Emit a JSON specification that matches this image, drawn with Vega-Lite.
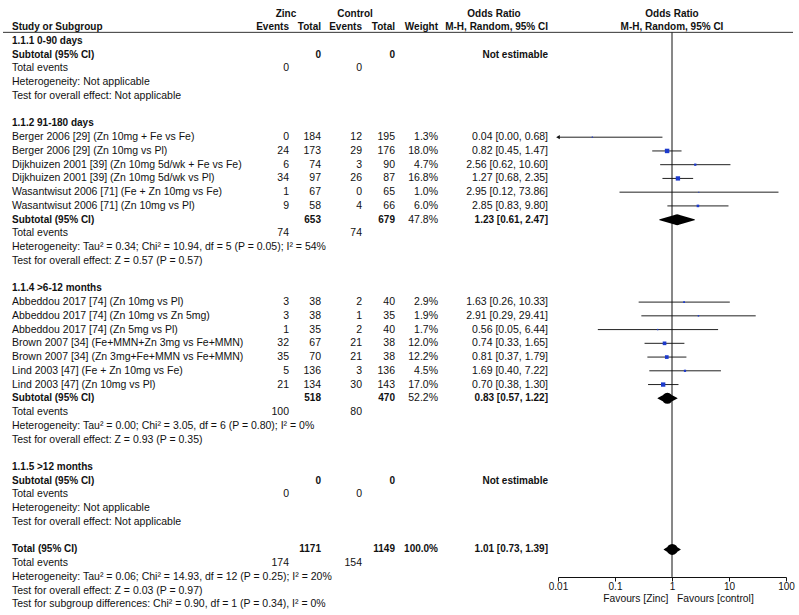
{
  "$schema": "https://vega.github.io/schema/vega-lite/v6.json",
  "width": 799,
  "height": 615,
  "autosize": {"type": "none"},
  "padding": 0,
  "background": "white",
  "config": {
    "view": {"stroke": null},
    "font": "Liberation Sans",
    "text": {"font": "Liberation Sans", "fontSize": 10.5, "color": "#111", "baseline": "middle"}
  },
  "resolve": {"scale": {"size": "independent"}},
  "data": {"values": [
    {"row": -1, "kind": "header", "label": "Study or Subgroup", "ze": "Events", "zt": "Total", "ce": "Events", "ct": "Total", "ort": "M-H, Random, 95% CI"},
    {"row": 0, "kind": "group", "label": "1.1.1 0-90 days"},
    {"row": 1, "kind": "subtotal", "label": "Subtotal (95% CI)", "zt": 0, "ct": 0, "ort": "Not estimable"},
    {"row": 2, "kind": "events", "label": "Total events", "ze": 0, "ce": 0},
    {"row": 3, "kind": "note", "label": "Heterogeneity: Not applicable"},
    {"row": 4, "kind": "note", "label": "Test for overall effect: Not applicable"},
    {"row": 6, "kind": "group", "label": "1.1.2 91-180 days"},
    {"row": 7, "kind": "study", "label": "Berger 2006 [29] (Zn 10mg + Fe vs Fe)", "ze": 0, "zt": 184, "ce": 12, "ct": 195, "w": 0.013, "est": 0.04, "lo": 0.002, "hi": 0.68, "ort": "0.04 [0.00, 0.68]"},
    {"row": 8, "kind": "study", "label": "Berger 2006 [29] (Zn 10mg vs Pl)", "ze": 24, "zt": 173, "ce": 29, "ct": 176, "w": 0.18, "est": 0.82, "lo": 0.45, "hi": 1.47, "ort": "0.82 [0.45, 1.47]"},
    {"row": 9, "kind": "study", "label": "Dijkhuizen 2001 [39] (Zn 10mg 5d/wk + Fe vs Fe)", "ze": 6, "zt": 74, "ce": 3, "ct": 90, "w": 0.047, "est": 2.56, "lo": 0.62, "hi": 10.6, "ort": "2.56 [0.62, 10.60]"},
    {"row": 10, "kind": "study", "label": "Dijkhuizen 2001 [39] (Zn 10mg 5d/wk vs Pl)", "ze": 34, "zt": 97, "ce": 26, "ct": 87, "w": 0.168, "est": 1.27, "lo": 0.68, "hi": 2.35, "ort": "1.27 [0.68, 2.35]"},
    {"row": 11, "kind": "study", "label": "Wasantwisut 2006 [71] (Fe + Zn 10mg vs Fe)", "ze": 1, "zt": 67, "ce": 0, "ct": 65, "w": 0.01, "est": 2.95, "lo": 0.12, "hi": 73.86, "ort": "2.95 [0.12, 73.86]"},
    {"row": 12, "kind": "study", "label": "Wasantwisut 2006 [71] (Zn 10mg vs Pl)", "ze": 9, "zt": 58, "ce": 4, "ct": 66, "w": 0.06, "est": 2.85, "lo": 0.83, "hi": 9.8, "ort": "2.85 [0.83, 9.80]"},
    {"row": 13, "kind": "subtotal", "label": "Subtotal (95% CI)", "zt": 653, "ct": 679, "w": 0.478, "est": 1.23, "lo": 0.61, "hi": 2.47, "ort": "1.23 [0.61, 2.47]"},
    {"row": 14, "kind": "events", "label": "Total events", "ze": 74, "ce": 74},
    {"row": 15, "kind": "note", "label": "Heterogeneity: Tau² = 0.34; Chi² = 10.94, df = 5 (P = 0.05); I² = 54%"},
    {"row": 16, "kind": "note", "label": "Test for overall effect: Z = 0.57 (P = 0.57)"},
    {"row": 18, "kind": "group", "label": "1.1.4 >6-12 months"},
    {"row": 19, "kind": "study", "label": "Abbeddou 2017 [74] (Zn 10mg vs Pl)", "ze": 3, "zt": 38, "ce": 2, "ct": 40, "w": 0.029, "est": 1.63, "lo": 0.26, "hi": 10.33, "ort": "1.63 [0.26, 10.33]"},
    {"row": 20, "kind": "study", "label": "Abbeddou 2017 [74] (Zn 10mg vs Zn 5mg)", "ze": 3, "zt": 38, "ce": 1, "ct": 35, "w": 0.019, "est": 2.91, "lo": 0.29, "hi": 29.41, "ort": "2.91 [0.29, 29.41]"},
    {"row": 21, "kind": "study", "label": "Abbeddou 2017 [74] (Zn 5mg vs Pl)", "ze": 1, "zt": 35, "ce": 2, "ct": 40, "w": 0.017, "est": 0.56, "lo": 0.05, "hi": 6.44, "ort": "0.56 [0.05, 6.44]"},
    {"row": 22, "kind": "study", "label": "Brown 2007 [34] (Fe+MMN+Zn 3mg vs Fe+MMN)", "ze": 32, "zt": 67, "ce": 21, "ct": 38, "w": 0.12, "est": 0.74, "lo": 0.33, "hi": 1.65, "ort": "0.74 [0.33, 1.65]"},
    {"row": 23, "kind": "study", "label": "Brown 2007 [34] (Zn 3mg+Fe+MMN vs Fe+MMN)", "ze": 35, "zt": 70, "ce": 21, "ct": 38, "w": 0.122, "est": 0.81, "lo": 0.37, "hi": 1.79, "ort": "0.81 [0.37, 1.79]"},
    {"row": 24, "kind": "study", "label": "Lind 2003 [47] (Fe + Zn 10mg vs Fe)", "ze": 5, "zt": 136, "ce": 3, "ct": 136, "w": 0.045, "est": 1.69, "lo": 0.4, "hi": 7.22, "ort": "1.69 [0.40, 7.22]"},
    {"row": 25, "kind": "study", "label": "Lind 2003 [47] (Zn 10mg vs Pl)", "ze": 21, "zt": 134, "ce": 30, "ct": 143, "w": 0.17, "est": 0.7, "lo": 0.38, "hi": 1.3, "ort": "0.70 [0.38, 1.30]"},
    {"row": 26, "kind": "subtotal", "label": "Subtotal (95% CI)", "zt": 518, "ct": 470, "w": 0.522, "est": 0.83, "lo": 0.57, "hi": 1.22, "ort": "0.83 [0.57, 1.22]"},
    {"row": 27, "kind": "events", "label": "Total events", "ze": 100, "ce": 80},
    {"row": 28, "kind": "note", "label": "Heterogeneity: Tau² = 0.00; Chi² = 3.05, df = 6 (P = 0.80); I² = 0%"},
    {"row": 29, "kind": "note", "label": "Test for overall effect: Z = 0.93 (P = 0.35)"},
    {"row": 31, "kind": "group", "label": "1.1.5 >12 months"},
    {"row": 32, "kind": "subtotal", "label": "Subtotal (95% CI)", "zt": 0, "ct": 0, "ort": "Not estimable"},
    {"row": 33, "kind": "events", "label": "Total events", "ze": 0, "ce": 0},
    {"row": 34, "kind": "note", "label": "Heterogeneity: Not applicable"},
    {"row": 35, "kind": "note", "label": "Test for overall effect: Not applicable"},
    {"row": 37, "kind": "total", "label": "Total (95% CI)", "zt": 1171, "ct": 1149, "w": 1.0, "est": 1.01, "lo": 0.73, "hi": 1.39, "ort": "1.01 [0.73, 1.39]"},
    {"row": 38, "kind": "events", "label": "Total events", "ze": 174, "ce": 154},
    {"row": 39, "kind": "note", "label": "Heterogeneity: Tau² = 0.06; Chi² = 14.93, df = 12 (P = 0.25); I² = 20%"},
    {"row": 40, "kind": "note", "label": "Test for overall effect: Z = 0.03 (P = 0.97)"},
    {"row": 41, "kind": "note", "label": "Test for subgroup differences: Chi² = 0.90, df = 1 (P = 0.34), I² = 0%"}
  ]},
  "layer": [
    {
      "transform": [{"filter": {"field": "kind", "oneOf": ["study", "events", "note"]}}],
      "mark": {"type": "text", "align": "left"},
      "encoding": {
        "x": {"value": 12},
        "y": {"field": "row", "type": "quantitative", "scale": {"domain": [-2.984, 41.77], "reverse": true, "nice": false, "zero": false}, "axis": null},
        "text": {"field": "label", "type": "nominal"}
      }
    },
    {
      "transform": [{"filter": {"field": "kind", "oneOf": ["header", "group", "subtotal", "total"]}}],
      "mark": {"type": "text", "align": "left", "fontWeight": "bold", "fontSize": 10},
      "encoding": {
        "x": {"value": 12},
        "y": {"field": "row", "type": "quantitative", "axis": null},
        "text": {"field": "label", "type": "nominal"}
      }
    },
    {
      "transform": [{"filter": {"field": "kind", "oneOf": ["study", "events"]}}, {"filter": "isValid(datum['ze'])"}],
      "mark": {"type": "text", "align": "right"},
      "encoding": {"x": {"value": 289}, "y": {"field": "row", "type": "quantitative", "axis": null}, "text": {"field": "ze", "type": "nominal"}}
    },
    {
      "transform": [{"filter": {"field": "kind", "oneOf": ["header"]}}],
      "mark": {"type": "text", "align": "right", "fontWeight": "bold", "fontSize": 10},
      "encoding": {"x": {"value": 289}, "y": {"field": "row", "type": "quantitative", "axis": null}, "text": {"field": "ze", "type": "nominal"}}
    },
    {
      "transform": [{"filter": {"field": "kind", "oneOf": ["study"]}}],
      "mark": {"type": "text", "align": "right"},
      "encoding": {"x": {"value": 321}, "y": {"field": "row", "type": "quantitative", "axis": null}, "text": {"field": "zt", "type": "nominal"}}
    },
    {
      "transform": [{"filter": {"field": "kind", "oneOf": ["header", "subtotal", "total"]}}],
      "mark": {"type": "text", "align": "right", "fontWeight": "bold", "fontSize": 10},
      "encoding": {"x": {"value": 321}, "y": {"field": "row", "type": "quantitative", "axis": null}, "text": {"field": "zt", "type": "nominal"}}
    },
    {
      "transform": [{"filter": {"field": "kind", "oneOf": ["study", "events"]}}, {"filter": "isValid(datum['ce'])"}],
      "mark": {"type": "text", "align": "right"},
      "encoding": {"x": {"value": 362}, "y": {"field": "row", "type": "quantitative", "axis": null}, "text": {"field": "ce", "type": "nominal"}}
    },
    {
      "transform": [{"filter": {"field": "kind", "oneOf": ["header"]}}],
      "mark": {"type": "text", "align": "right", "fontWeight": "bold", "fontSize": 10},
      "encoding": {"x": {"value": 362}, "y": {"field": "row", "type": "quantitative", "axis": null}, "text": {"field": "ce", "type": "nominal"}}
    },
    {
      "transform": [{"filter": {"field": "kind", "oneOf": ["study"]}}],
      "mark": {"type": "text", "align": "right"},
      "encoding": {"x": {"value": 395}, "y": {"field": "row", "type": "quantitative", "axis": null}, "text": {"field": "ct", "type": "nominal"}}
    },
    {
      "transform": [{"filter": {"field": "kind", "oneOf": ["header", "subtotal", "total"]}}],
      "mark": {"type": "text", "align": "right", "fontWeight": "bold", "fontSize": 10},
      "encoding": {"x": {"value": 395}, "y": {"field": "row", "type": "quantitative", "axis": null}, "text": {"field": "ct", "type": "nominal"}}
    },
    {
      "transform": [{"filter": {"field": "kind", "oneOf": ["study", "subtotal"]}}, {"filter": "isValid(datum['w'])"}],
      "mark": {"type": "text", "align": "right"},
      "encoding": {"x": {"value": 438}, "y": {"field": "row", "type": "quantitative", "axis": null}, "text": {"field": "w", "type": "quantitative", "format": ".1%"}}
    },
    {
      "transform": [{"filter": {"field": "kind", "oneOf": ["total"]}}],
      "mark": {"type": "text", "align": "right", "fontWeight": "bold", "fontSize": 10},
      "encoding": {"x": {"value": 438}, "y": {"field": "row", "type": "quantitative", "axis": null}, "text": {"field": "w", "type": "quantitative", "format": ".1%"}}
    },
    {
      "transform": [{"filter": {"field": "kind", "oneOf": ["study"]}}],
      "mark": {"type": "text", "align": "right"},
      "encoding": {"x": {"value": 548}, "y": {"field": "row", "type": "quantitative", "axis": null}, "text": {"field": "ort", "type": "nominal"}}
    },
    {
      "transform": [{"filter": {"field": "kind", "oneOf": ["header", "subtotal", "total"]}}, {"filter": "isValid(datum['ort'])"}],
      "mark": {"type": "text", "align": "right", "fontWeight": "bold", "fontSize": 10},
      "encoding": {"x": {"value": 548}, "y": {"field": "row", "type": "quantitative", "axis": null}, "text": {"field": "ort", "type": "nominal"}}
    },
    {
      "data": {"values": [{}]},
      "mark": {"type": "text", "align": "right", "fontWeight": "bold", "fontSize": 10},
      "encoding": {"x": {"value": 438}, "y": {"datum": -1, "type": "quantitative", "axis": null}, "text": {"value": "Weight"}}
    },
    {
      "data": {"values": [{}]},
      "mark": {"type": "text", "align": "center", "fontWeight": "bold", "fontSize": 10},
      "encoding": {"x": {"value": 286}, "y": {"datum": -2, "type": "quantitative", "axis": null}, "text": {"value": "Zinc"}}
    },
    {
      "data": {"values": [{}]},
      "mark": {"type": "text", "align": "center", "fontWeight": "bold", "fontSize": 10},
      "encoding": {"x": {"value": 355}, "y": {"datum": -2, "type": "quantitative", "axis": null}, "text": {"value": "Control"}}
    },
    {
      "data": {"values": [{}]},
      "mark": {"type": "text", "align": "center", "fontWeight": "bold", "fontSize": 10},
      "encoding": {"x": {"value": 494}, "y": {"datum": -2, "type": "quantitative", "axis": null}, "text": {"value": "Odds Ratio"}}
    },
    {
      "data": {"values": [{}]},
      "mark": {"type": "rule", "color": "#333", "strokeWidth": 1},
      "encoding": {"x": {"value": 3}, "x2": {"value": 793}, "y": {"datum": -0.63, "type": "quantitative", "axis": null}}
    },
    {
      "transform": [{"filter": {"field": "kind", "oneOf": ["study"]}}],
      "mark": {"type": "rule", "color": "#222", "strokeWidth": 1},
      "encoding": {
        "x": {"field": "lo", "type": "quantitative",
          "scale": {"type": "log", "domain": [0.01, 100], "range": [558, 786], "clamp": true, "nice": false},
          "axis": {"values": [0.01, 0.1, 1, 10, 100], "format": "~g", "offset": -38, "grid": false, "tickSize": 4, "labelPadding": 0, "labelFontSize": 10, "labelFont": "Liberation Sans", "labelColor": "#111", "labelFlush": false, "domainColor": "#111", "tickColor": "#111", "title": "Favours [Zinc]\u00a0\u00a0 Favours [control]", "titleFontSize": 10.3, "titleFontWeight": "normal", "titleFont": "Liberation Sans", "titleColor": "#111", "titlePadding": 2, "titleX": 678}},
        "x2": {"field": "hi"},
        "y": {"field": "row", "type": "quantitative", "axis": null}
      }
    },
    {
      "data": {"values": [{}]},
      "mark": {"type": "rule", "color": "#111", "strokeWidth": 1},
      "encoding": {"x": {"datum": 1, "type": "quantitative"}, "y": {"datum": -0.63, "type": "quantitative", "axis": null}, "y2": {"datum": 39.0}}
    },
    {
      "data": {"values": [{}]},
      "mark": {"type": "text", "align": "center", "fontWeight": "bold", "fontSize": 10},
      "encoding": {"x": {"datum": 1, "type": "quantitative"}, "y": {"datum": -2, "type": "quantitative", "axis": null}, "text": {"value": "Odds Ratio"}}
    },
    {
      "data": {"values": [{}]},
      "mark": {"type": "text", "align": "center", "fontWeight": "bold", "fontSize": 10},
      "encoding": {"x": {"datum": 1, "type": "quantitative"}, "y": {"datum": -1, "type": "quantitative", "axis": null}, "text": {"value": "M-H, Random, 95% CI"}}
    },
    {
      "transform": [{"filter": {"field": "kind", "oneOf": ["study"]}}, {"filter": "datum['lo'] < 0.01"}],
      "mark": {"type": "point", "shape": "triangle-left", "filled": true, "color": "#111", "size": 18, "opacity": 1},
      "encoding": {"x": {"field": "lo", "type": "quantitative"}, "y": {"field": "row", "type": "quantitative", "axis": null}}
    },
    {
      "transform": [{"filter": {"field": "kind", "oneOf": ["study"]}}],
      "mark": {"type": "point", "shape": "square", "filled": true, "color": "#1c3acc", "opacity": 1},
      "encoding": {
        "x": {"field": "est", "type": "quantitative"},
        "y": {"field": "row", "type": "quantitative", "axis": null},
        "size": {"field": "w", "type": "quantitative", "scale": {"domain": [0, 0.18], "range": [0, 20], "zero": true}, "legend": null}
      }
    },
    {
      "transform": [{"filter": {"field": "kind", "oneOf": ["subtotal", "total"]}}, {"filter": "isValid(datum['est'])"}, {"fold": ["lo", "est", "hi"], "as": ["k", "v"]}],
      "mark": {"type": "trail", "color": "#000"},
      "encoding": {
        "x": {"field": "v", "type": "quantitative"},
        "y": {"field": "row", "type": "quantitative", "axis": null},
        "detail": {"field": "row", "type": "nominal"},
        "size": {"field": "k", "type": "nominal", "scale": {"type": "ordinal", "domain": ["lo", "est", "hi"], "range": [0, 11, 0]}, "legend": null}
      }
    }
  ]
}
